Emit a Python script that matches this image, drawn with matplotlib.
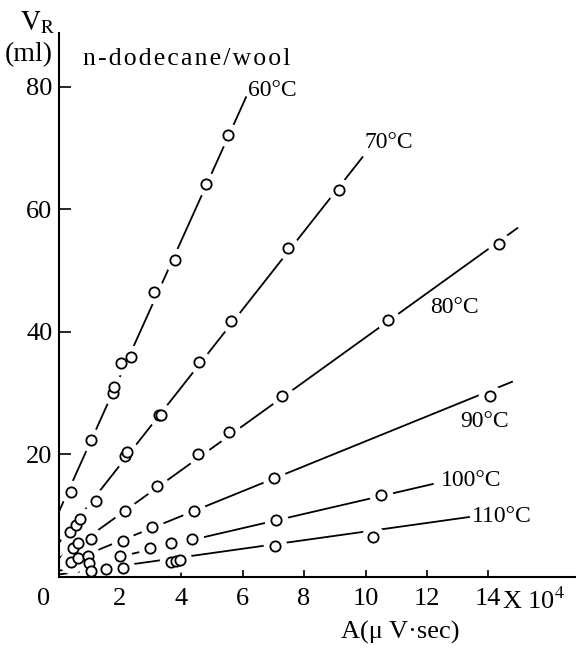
import matplotlib
matplotlib.use("Agg")
import matplotlib.pyplot as plt

plt.rcParams['font.family'] = ['Liberation Serif', 'DejaVu Serif']
plt.rcParams['mathtext.fontset'] = 'stix'

# ---- data (A in 10^4 uV*sec, VR in ml) ----
a60 = [0.42, 1.07, 1.79, 1.81, 2.05, 2.35, 3.10, 3.81, 4.79, 5.51]
v60 = [13.9, 22.3, 30.0, 31.0, 34.9, 35.9, 46.5, 51.7, 64.1, 72.1]

a70 = [0.36, 0.58, 0.69, 1.21, 2.17, 2.23, 3.26, 3.33, 4.58, 5.63, 7.48, 9.14]
v70 = [7.4, 8.5, 9.4, 12.4, 19.7, 20.4, 26.4, 26.5, 35.0, 41.8, 53.6, 63.2]

a80 = [0.47, 0.63, 1.05, 2.18, 3.22, 4.54, 5.54, 7.28, 10.73, 14.35]
v80 = [4.7, 5.5, 6.2, 10.7, 14.9, 20.1, 23.6, 29.5, 41.9, 54.3]

a90 = [0.42, 0.63, 0.96, 2.10, 3.06, 4.41, 7.01, 14.05]
v90 = [2.5, 3.05, 3.5, 5.9, 8.1, 10.7, 16.1, 29.5]

a100 = [0.99, 1.99, 2.97, 3.68, 4.35, 7.10, 10.5]
v100 = [2.3, 3.4, 4.7, 5.5, 6.2, 9.3, 13.3]

a110 = [1.07, 1.56, 2.10, 3.68, 3.82, 3.97, 7.04, 10.24]
v110 = [1.0, 1.3, 1.5, 2.4, 2.6, 2.8, 5.1, 6.6]

# fitted straight lines: (x_start, x_end), (y_start, y_end)
line_x = {60: [0, 6.12], 70: [0, 9.92], 80: [0, 14.97],
          90: [0, 14.8], 100: [0, 12.22], 110: [0, 13.4]}
line_y = {60: [10.5, 78.4], 70: [5.5, 68.6], 80: [3.0, 57.0],
          90: [1.8, 31.9], 100: [1.0, 15.2], 110: [0.4, 9.8]}

temps = [60, 70, 80, 90, 100, 110]
temp_labels = ['60°C', '70°C', '80°C', '90°C', '100°C', '110°C']
label_pos = {60: (6.16, 79.4), 70: (9.98, 70.8), 80: (12.11, 44.0),
             90: (13.09, 25.3), 100: (12.47, 15.7), 110: (13.48, 9.8)}

xticks = [2, 4, 6, 8, 10, 12, 14]
yticks = [20, 40, 60, 80]

series = {60: (a60, v60), 70: (a70, v70), 80: (a80, v80),
          90: (a90, v90), 100: (a100, v100), 110: (a110, v110)}

W, H = 576, 648
fig = plt.figure(figsize=(W / 100, H / 100), dpi=100)
x0px, y0px, ytop = 58.5, 577, 33
ax = fig.add_axes([x0px / W, (H - y0px) / H, (W - x0px) / W, (y0px - ytop) / H])
ax.set_xlim(0, (W - x0px) / 30.7)
ax.set_ylim(0, (y0px - ytop) / 6.13)

for t in temps:
    ax.plot(line_x[t], line_y[t], color='black', lw=1.3, zorder=1,
            solid_capstyle='butt')
for t in temps:
    a, v = series[t]
    ax.plot(a, v, 'o', ms=17, mfc='white', mec='none', zorder=2)
for t in temps:
    a, v = series[t]
    ax.plot(a, v, 'o', ms=7.4, mfc='white', mec='black', mew=1.3, zorder=3)

for t, lab in zip(temps, temp_labels):
    x, y = label_pos[t]
    ax.text(x, y, lab, fontsize=17, ha='left', va='center', zorder=4)

for s in ['top', 'right']:
    ax.spines[s].set_visible(False)
for s in ['left', 'bottom']:
    ax.spines[s].set_linewidth(1.5)

ax.set_xticks(xticks)
ax.set_xticklabels([str(t) for t in xticks])
ax.set_yticks(yticks)
ax.set_yticklabels([str(t) for t in yticks])
ax.tick_params(axis='x', direction='in', length=5, width=1.2, pad=8, labelsize=19)
ax.tick_params(axis='y', direction='in', length=8.5, width=1.2, pad=4.3, labelsize=19)

ax.annotate('0', xy=(0, 0), xycoords=('data', 'axes fraction'),
            xytext=(-11, -8), textcoords='offset points',
            ha='center', va='top', fontsize=19)
ax.annotate(r'X 10$^{4}$', xy=(14.44, 0), xycoords=('data', 'axes fraction'),
            xytext=(0, -8), textcoords='offset points',
            ha='left', va='top', fontsize=19)

fig.text(400 / W, 1 - 632 / H, 'A(μ V·sec)', fontsize=19, ha='center', va='center')
fig.text(20 / W, 1 - 30 / H, r'$\mathrm{V}_{\mathrm{R}}$', fontsize=20, ha='left', va='baseline')
fig.text(5 / W, 1 - 61 / H, '(ml)', fontsize=20, ha='left', va='baseline')
title = '\u200a'.join('n-dodecane/wool')
fig.text(83 / W, 1 - 65 / H, title, fontsize=18.5, ha='left', va='baseline')

fig.savefig('out.png', dpi=100)
